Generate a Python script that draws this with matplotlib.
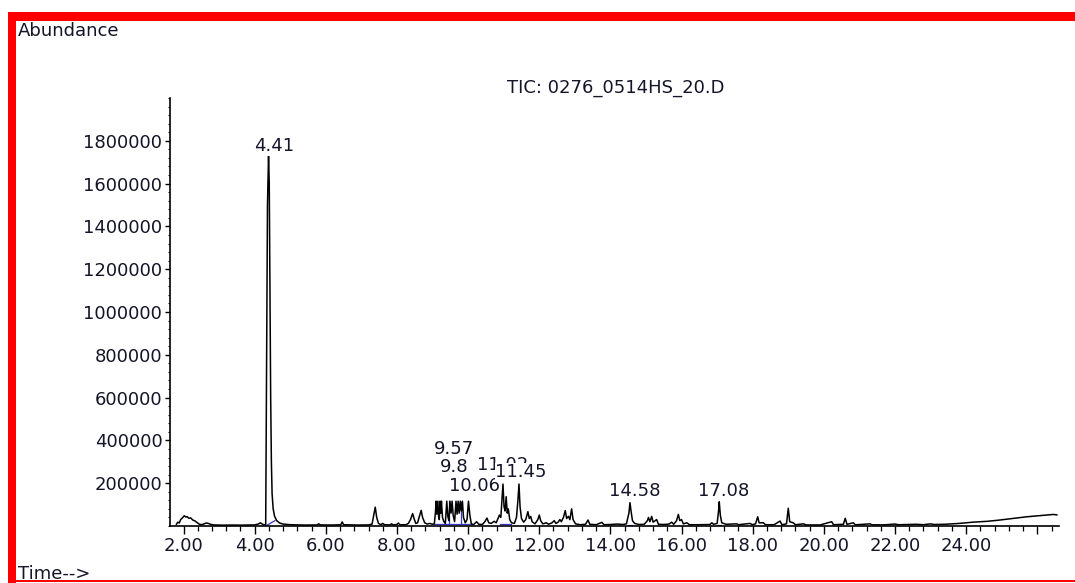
#!/usr/bin/env python3
"""
TIC chromatogram (0276_0514HS_20.D) redrawn with matplotlib
"""
import matplotlib
matplotlib.use("Agg")
import matplotlib.pyplot as plt
from matplotlib.patches import Rectangle
from matplotlib.ticker import MultipleLocator, FixedLocator

# retention time (min) and abundance of the TIC trace
trace_time = [
    1.80, 1.84, 1.88, 1.92, 1.97, 2.02, 2.06, 2.10, 2.15, 2.20, 2.26, 2.32, 2.38, 2.45,
    2.52, 2.58, 2.64, 2.70, 2.76, 2.85, 3.10, 3.40, 3.60, 3.85, 4.00, 4.10, 4.16, 4.22,
    4.29, 4.31, 4.33, 4.36, 4.39, 4.41, 4.43, 4.45, 4.47, 4.49, 4.52, 4.56, 4.62, 4.70,
    4.80, 5.00, 5.40, 5.75, 5.80, 5.85, 6.20, 6.42, 6.46, 6.50, 6.90, 7.20, 7.30, 7.36,
    7.39, 7.43, 7.48, 7.55, 7.60, 7.65, 7.80, 7.85, 7.90, 8.00, 8.04, 8.08, 8.25, 8.32,
    8.38, 8.44, 8.48, 8.53, 8.58, 8.63, 8.68, 8.72, 8.78, 8.85, 8.92, 9.00, 9.05, 9.08,
    9.10, 9.12, 9.15, 9.17, 9.19, 9.21, 9.23, 9.25, 9.28, 9.32, 9.36, 9.40, 9.43, 9.46,
    9.49, 9.52, 9.55, 9.58, 9.62, 9.66, 9.69, 9.72, 9.75, 9.78, 9.81, 9.84, 9.87, 9.92,
    9.97, 10.01, 10.05, 10.09, 10.15, 10.24, 10.30, 10.40, 10.47, 10.53, 10.58, 10.65,
    10.73, 10.79, 10.84, 10.88, 10.92, 10.95, 10.98, 11.01, 11.04, 11.07, 11.10, 11.13,
    11.17, 11.22, 11.30, 11.36, 11.40, 11.43, 11.46, 11.50, 11.56, 11.62, 11.68, 11.72,
    11.76, 11.80, 11.88, 11.96, 12.00, 12.04, 12.10, 12.20, 12.26, 12.36, 12.42, 12.47,
    12.53, 12.58, 12.62, 12.68, 12.73, 12.77, 12.82, 12.86, 12.91, 12.95, 13.02, 13.15,
    13.30, 13.37, 13.42, 13.60, 13.76, 13.82, 14.00, 14.20, 14.35, 14.45, 14.52, 14.55,
    14.58, 14.62, 14.68, 14.80, 14.95, 15.04, 15.07, 15.11, 15.16, 15.20, 15.30, 15.35,
    15.50, 15.65, 15.72, 15.78, 15.86, 15.91, 15.95, 16.00, 16.05, 16.15, 16.22, 16.50,
    16.80, 16.85, 16.90, 17.00, 17.04, 17.06, 17.09, 17.13, 17.25, 17.55, 17.60, 17.93,
    17.98, 18.08, 18.14, 18.18, 18.30, 18.36, 18.60, 18.77, 18.82, 18.95, 19.00, 19.04,
    19.14, 19.20, 19.43, 19.50, 19.90, 20.22, 20.27, 20.55, 20.60, 20.65, 20.83, 20.88,
    21.30, 21.35, 21.70, 22.00, 22.10, 22.60, 22.80, 22.99, 23.10, 23.40, 23.80, 24.20,
    24.60, 24.90, 25.30, 25.70, 26.10, 26.45, 26.55,
]
trace_abund = [
    8000, 18000, 14000, 30000, 38000, 48000, 42000, 44000, 36000, 38000, 28000, 24000, 16000, 8000,
    6000, 10000, 14000, 12000, 8000, 5000, 4000, 4500, 4000, 4500, 5000, 9000, 15000, 8000,
    5000, 6000, 600000, 1500000, 1733000, 1600000, 1100000, 600000, 300000, 150000, 80000, 45000, 25000, 14000,
    9000, 6000, 4500, 5000, 10000, 5000, 4500, 6000, 19000, 6000, 4500, 5000, 9000, 60000,
    88000, 40000, 12000, 6000, 12000, 6000, 5000, 10000, 5000, 7000, 14000, 6000, 6000, 12000,
    30000, 58000, 35000, 12000, 15000, 45000, 73000, 40000, 15000, 9000, 12000, 8000, 10000, 60000,
    116000, 55000, 116000, 45000, 30000, 116000, 60000, 116000, 40000, 20000, 12000, 116000, 45000, 25000,
    116000, 60000, 116000, 50000, 20000, 116000, 55000, 116000, 60000, 116000, 70000, 116000, 40000, 15000,
    30000, 116000, 50000, 10000, 6000, 20000, 8000, 7000, 20000, 37000, 15000, 12000,
    22000, 15000, 35000, 51000, 40000, 120000, 196000, 90000, 70000, 137000, 60000, 80000,
    30000, 15000, 12000, 40000, 120000, 196000, 90000, 35000, 18000, 30000, 67000, 35000,
    45000, 20000, 10000, 30000, 51000, 25000, 10000, 15000, 8000, 15000, 25000, 12000,
    18000, 30000, 20000, 40000, 72000, 35000, 45000, 30000, 80000, 30000, 10000, 6000,
    8000, 28000, 8000, 6000, 17000, 6000, 7000, 9000, 7000, 10000, 60000, 109000,
    70000, 25000, 12000, 7000, 8000, 25000, 40000, 20000, 45000, 18000, 30000, 8000,
    7000, 9000, 18000, 8000, 25000, 54000, 25000, 30000, 10000, 15000, 6000, 6000,
    7000, 15000, 8000, 12000, 70000, 113000, 50000, 15000, 8000, 10000, 6000, 12000,
    6000, 10000, 43000, 15000, 15000, 6000, 6000, 23000, 6000, 10000, 83000, 20000,
    15000, 6000, 10000, 5000, 5000, 20000, 6000, 8000, 36000, 8000, 15000, 5500,
    10000, 5500, 5500, 9000, 6000, 8000, 6000, 10000, 7000, 8000, 12000, 18000,
    22000, 27000, 35000, 43000, 49000, 54000, 52000,
]

# integration baselines / drop lines (blue) drawn by the data system
integ_time = [[4.32, 4.57], [9.05, 10.10], [9.47, 9.47], [9.80, 9.80], [10.90, 11.20], [14.50, 14.62], [17.02, 17.12]]
integ_abund = [[1000, 25000], [9000, 9000], [9000, 116000], [9000, 110000], [9000, 9000], [7000, 7000], [7000, 7000]]

# peak labels
peak_labels = ["4.41", "9.57", "9.8", "10.06", "11.02", "11.45", "14.58", "17.08"]
y_ticks = [200000, 400000, 600000, 800000, 1000000, 1200000, 1400000, 1600000, 1800000]
x_ticks = [2, 4, 6, 8, 10, 12, 14, 16, 18, 20, 22, 24, 26]
x_tick_labels = ["2.00", "4.00", "6.00", "8.00", "10.00", "12.00", "14.00", "16.00",
                 "18.00", "20.00", "22.00", "24.00", ""]

W, H = 1075, 583
plt.rcParams['font.family'] = ['DejaVu Sans']
txt_color = '#15152a'

fig = plt.figure(figsize=(W / 100, H / 100), dpi=100)
fig.patch.set_facecolor('white')

# red frame of the report page
fig.patches.append(Rectangle((8 / W, 1 - 20.7 / H), 1 - 8 / W, 8.7 / H, transform=fig.transFigure,
                             facecolor='#ff0000', edgecolor='none'))
fig.patches.append(Rectangle((8 / W, 0), 8 / W, 1 - 12 / H, transform=fig.transFigure,
                             facecolor='#ff0000', edgecolor='none'))
fig.patches.append(Rectangle((8 / W, 1.2 / H), 1 - 8 / W, 1.6 / H, transform=fig.transFigure,
                             facecolor='#ff0000', edgecolor='none'))

ax = fig.add_axes([170 / W, 57 / H, (1059 - 170) / W, (526 - 98) / H])
ax.plot(trace_time, trace_abund, color='black', linewidth=1.1, zorder=3)
for tt, aa in zip(integ_time, integ_abund):
    ax.plot(tt, aa, color='#3434c8', linewidth=0.9, zorder=2)

ax.set_xlim(1.62, 26.61)
ax.set_ylim(0, 2000000)
for side in ['top', 'right']:
    ax.spines[side].set_visible(False)
for side in ['left', 'bottom']:
    ax.spines[side].set_linewidth(1.2)

ax.xaxis.set_major_locator(FixedLocator(x_ticks))
ax.set_xticklabels(x_tick_labels)
ax.xaxis.set_minor_locator(MultipleLocator(0.4))
ax.yaxis.set_major_locator(FixedLocator(y_ticks))
ax.set_yticklabels([str(v) for v in y_ticks])
ax.yaxis.set_minor_locator(MultipleLocator(40000))
ax.tick_params(axis='x', which='major', length=6, width=1.0, pad=2, labelsize=13, labelcolor=txt_color)
ax.tick_params(axis='x', which='minor', length=3.5, width=0.9)
ax.tick_params(axis='y', which='major', length=3.5, width=1.0, pad=2, labelsize=13, labelcolor=txt_color)
ax.tick_params(axis='y', which='minor', length=1.8, width=0.8)

# peak label layout: (time, abundance) of the label centre
label_pos = [(4.56, 1775000), (9.60, 360000), (9.62, 276000), (10.18, 187000),
             (10.98, 285000), (11.49, 252000), (14.69, 163000), (17.17, 163000)]
label_z = [5, 5, 6, 5, 6, 7, 5, 5]
for txt, (px, py), z in zip(peak_labels, label_pos, label_z):
    ax.text(px, py, txt, ha='center', va='center', fontsize=13, color=txt_color, zorder=z,
            bbox=dict(facecolor='white', edgecolor='none', pad=0.3))

fig.text(18 / W, 1 - 31 / H, "Abundance", ha='left', va='center', fontsize=13, color=txt_color)
fig.text(616 / W, 1 - 88 / H, "TIC: 0276_0514HS_20.D", ha='center', va='center', fontsize=13,
         color=txt_color)
fig.text(18 / W, 1 - 574 / H, "Time-->", ha='left', va='center', fontsize=13, color=txt_color)

fig.savefig("out.png", dpi=100)
plt.close(fig)
